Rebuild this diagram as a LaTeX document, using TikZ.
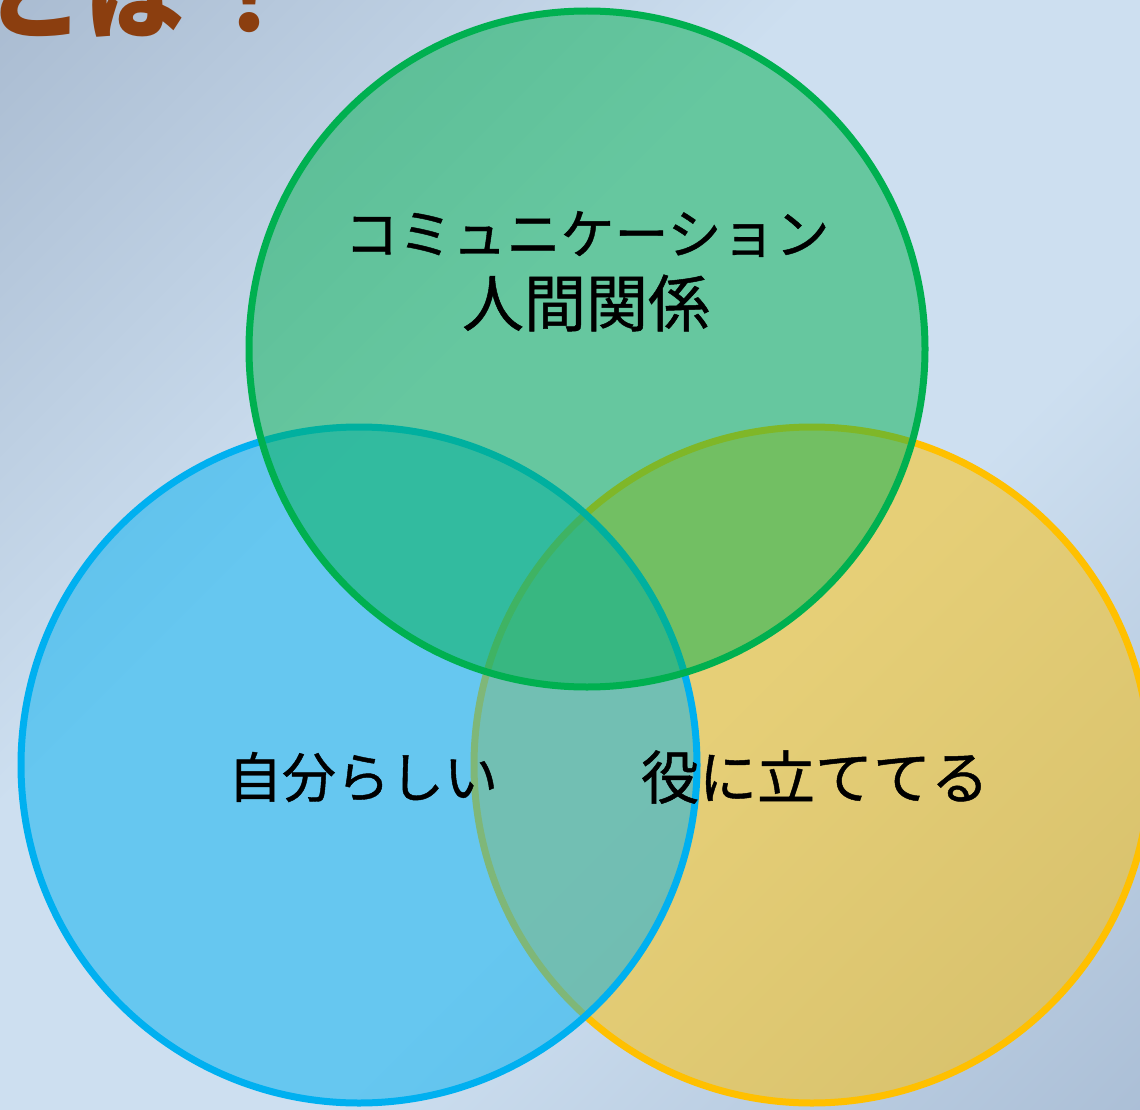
\documentclass[tikz,border=0pt]{standalone}
\usepackage{fontspec}
\newfontfamily\jp{Noto Sans CJK JP}
\newfontfamily\jpm[FakeBold=0.8]{Noto Sans CJK JP}
\definecolor{bgdark}{RGB}{166,184,206}
\definecolor{bglight}{RGB}{205,223,240}
\definecolor{bgdark2}{RGB}{168,188,212}
\definecolor{cgreen}{HTML}{00B050}
\definecolor{cblue}{HTML}{00B0F0}
\definecolor{cyellow}{HTML}{FFC000}
\definecolor{titlebrown}{HTML}{8B3E0F}
\pgfdeclareverticalshading{bgshade}{100bp}{color(0bp)=(bgdark2); color(12bp)=(bgdark2); color(40bp)=(bglight); color(60bp)=(bglight); color(88bp)=(bgdark); color(100bp)=(bgdark)}
\tikzset{
  venn/.style={circle, inner sep=0pt, minimum size=676pt, line width=7pt, fill opacity=0.5},
  lbl/.style={font=\jpm\fontsize{54}{70}\selectfont, text=black, align=center, inner sep=0pt},
}
\begin{document}
\begin{tikzpicture}[x=1pt,y=-1pt]
  \useasboundingbox (0,0) rectangle (1140,1110);
  \shade[shading=bgshade, shading angle=45] (0,0) rectangle (1140,1110);
  \node[anchor=base west, inner sep=0pt, text=titlebrown, font=\jp\bfseries\fontsize{100}{100}\selectfont] (title) at (-16,32) {とは\hspace{0.15em}！};
  \node[venn, draw=cyellow, fill=cyellow] (yellow) at (812,765) {};
  \node[venn, draw=cblue, fill=cblue] (blue) at (359,765) {};
  \node[venn, draw=cgreen, fill=cgreen] (green) at (587,349) {};
  \node[lbl] (gtext1) at (587,234) {コミュニケーション};
  \node[lbl, font=\jpm\fontsize{62}{70}\selectfont] (gtext2) at (586,303) {人間関係};
  \node[lbl] (btext) at (363,777) {自分らしい};
  \node[lbl, font=\jpm\fontsize{58}{70}\selectfont] (ytext) at (815,777) {役に立ててる};
\end{tikzpicture}
\end{document}
